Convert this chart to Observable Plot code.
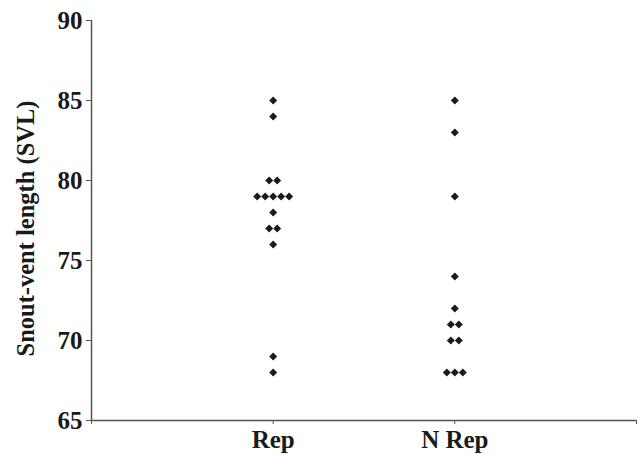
<!DOCTYPE html>
<html>
<head>
<meta charset="utf-8">
<script src="https://cdn.jsdelivr.net/npm/d3@7"></script>
<script src="https://cdn.jsdelivr.net/npm/@observablehq/plot@0.6"></script>
<style>
  body { margin: 0; background: #fff; }
</style>
</head>
<body>
<div id="chart"></div>
<script>
const categories = ["Rep", "N Rep"];
const repValues = [85, 84, 80, 80, 79, 79, 79, 79, 79, 78, 77, 77, 76, 69, 68];
const nRepValues = [85, 83, 79, 74, 72, 71, 71, 70, 70, 68, 68, 68];
const yTicks = [65, 70, 75, 80, 85, 90];
const yTitle = "Snout-vent length (SVL)";

const step = 0.044; // horizontal spacing of tied points, in category units
function spread(values, pos, group) {
  const counts = d3.rollup(values, v => v.length, d => d);
  const seen = new Map();
  return values.map(v => {
    const n = counts.get(v);
    const i = seen.get(v) || 0;
    seen.set(v, i + 1);
    return {group, value: v, x: pos + (i - (n - 1) / 2) * step};
  });
}
const data = [
  ...spread(repValues, 1, categories[0]),
  ...spread(nRepValues, 2, categories[1])
];

const font = "'Liberation Serif', 'Times New Roman', serif";
const axisColor = "#555";

const chart = Plot.plot({
  width: 640,
  height: 454,
  marginLeft: 91,
  marginRight: 4,
  marginTop: 20,
  marginBottom: 34,
  style: {fontFamily: font, fontWeight: "bold", fontSize: "25px", color: "#1a1a1a", background: "#fff"},
  x: {domain: [0, 3]},
  y: {domain: [65, 90]},
  marks: [
    Plot.ruleY([65], {stroke: axisColor, strokeWidth: 1.5}),
    Plot.ruleX([0], {stroke: axisColor, strokeWidth: 1.5}),
    Plot.axisY({ticks: yTicks, tickSize: 5, tickPadding: 4, stroke: axisColor,
      label: null, fill: "#1a1a1a", fontSize: 25, fontWeight: "bold"}),
    Plot.axisX({ticks: [0, 1, 2, 3], tickSize: 4, tickPadding: 6, stroke: axisColor,
      tickFormat: d => (d >= 1 && d <= 2) ? categories[d - 1] : "", label: null,
      fill: "#1a1a1a", fontSize: 25, fontWeight: "bold"}),
    Plot.text([yTitle], {frameAnchor: "left", rotate: -90, dx: -65, dy: 8, text: d => d,
      textAnchor: "middle", fontSize: 24.5, fontWeight: "bold", fill: "#1a1a1a"}),
    Plot.dot(data, {x: "x", y: "value", symbol: "diamond2", r: 3.6, fill: "#1a1a1a", stroke: null})
  ]
});
document.getElementById("chart").appendChild(chart);
</script>
</body>
</html>
